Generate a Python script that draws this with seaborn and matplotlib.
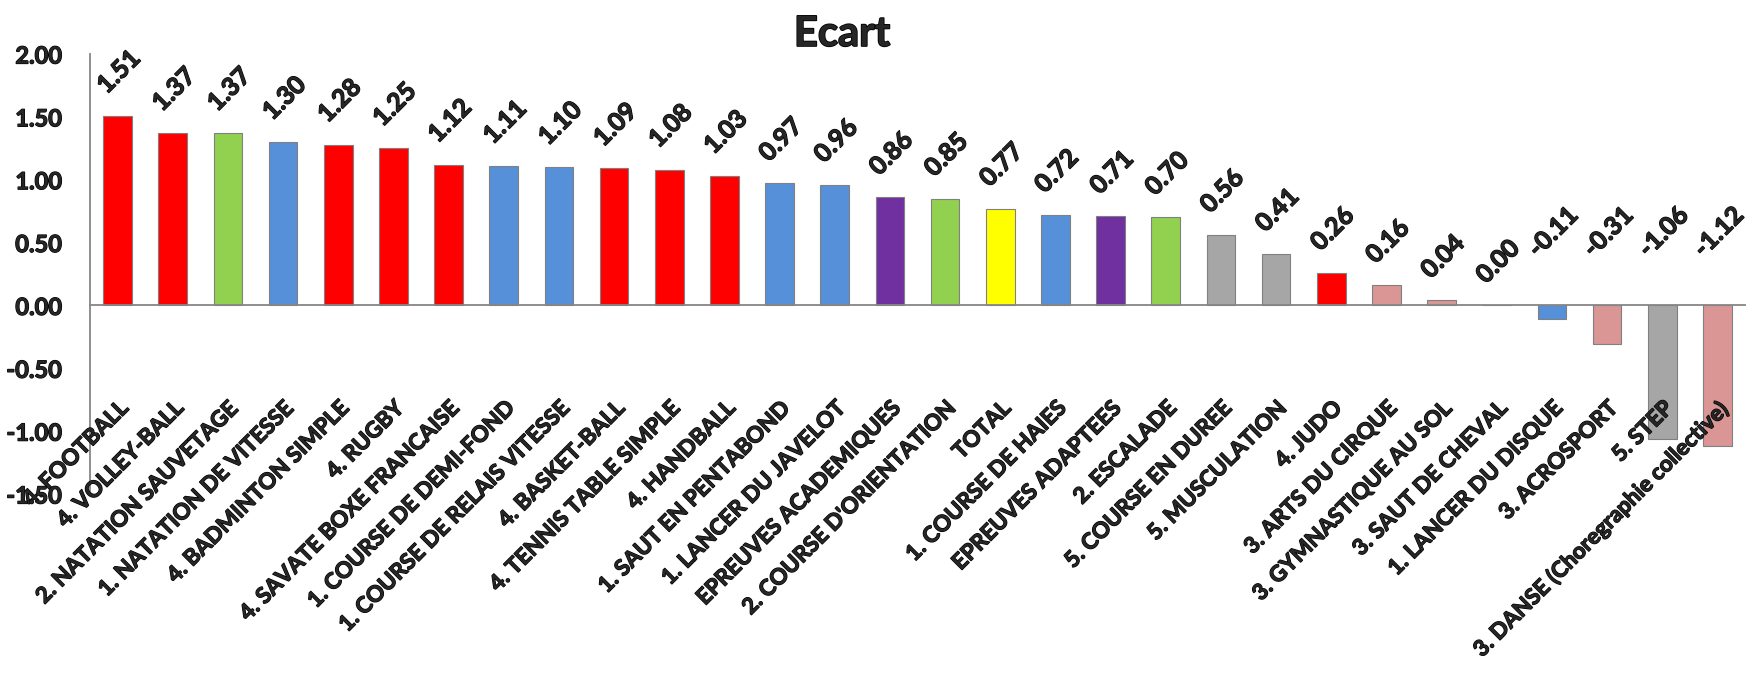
import numpy as np
import pandas as pd
import matplotlib
matplotlib.use('Agg')
import matplotlib.pyplot as plt
import matplotlib.patheffects as pe
import seaborn as sns

categories = ['4. FOOTBALL', '4. VOLLEY-BALL', '2. NATATION SAUVETAGE', '1. NATATION DE VITESSE',
              '4. BADMINTON SIMPLE', '4. RUGBY', '4. SAVATE BOXE FRANCAISE', '1. COURSE DE DEMI-FOND',
              '1. COURSE DE RELAIS VITESSE', '4. BASKET-BALL', '4. TENNIS TABLE SIMPLE', '4. HANDBALL',
              '1. SAUT EN PENTABOND', '1. LANCER DU JAVELOT', 'EPREUVES ACADEMIQUES',
              "2. COURSE D'ORIENTATION", 'TOTAL', '1. COURSE DE HAIES', 'EPREUVES ADAPTEES',
              '2. ESCALADE', '5. COURSE EN DUREE', '5. MUSCULATION', '4. JUDO', '3. ARTS DU CIRQUE',
              '3. GYMNASTIQUE AU SOL', '3. SAUT DE CHEVAL', '1. LANCER DU DISQUE', '3. ACROSPORT',
              '5. STEP', '3. DANSE (Choregraphie collective)']
ecart = [1.51, 1.37, 1.37, 1.30, 1.28, 1.25, 1.12, 1.11, 1.10, 1.09, 1.08, 1.03, 0.97, 0.96,
         0.86, 0.85, 0.77, 0.72, 0.71, 0.70, 0.56, 0.41, 0.26, 0.16, 0.04, 0.00, -0.11, -0.31,
         -1.06, -1.12]
# colour group of each bar
groups = ['red', 'red', 'green', 'blue', 'red', 'red', 'red', 'blue', 'blue', 'red', 'red', 'red',
          'blue', 'blue', 'purple', 'green', 'yellow', 'blue', 'purple', 'green', 'gray', 'gray',
          'red', 'pink', 'pink', 'pink', 'blue', 'pink', 'gray', 'pink']
group_colors = {'red': '#FF0000', 'green': '#92D050', 'blue': '#5690D8', 'purple': '#7030A0',
                'yellow': '#FFFF00', 'gray': '#A6A6A6', 'pink': '#D99694'}

df = pd.DataFrame({'cat': categories, 'val': ecart, 'grp': groups})

sns.set_style('white')
plt.rcParams['font.family'] = ['Lato', 'DejaVu Sans']
# heavier strokes, closer to the Calibri bold of the original
heavy = [pe.withStroke(linewidth=0.9, foreground='black')]

fig = plt.figure(figsize=(17.46, 6.87), dpi=100)
ax = fig.add_axes([90 / 1746, 1 - 494 / 687, 1655 / 1746, 440 / 687])

sns.barplot(data=df, x='cat', y='val', hue='grp', palette=group_colors, dodge=False,
            saturation=1, width=0.52, edgecolor='#808080', linewidth=0.8, legend=False, ax=ax)
ax.set_axisbelow(False)

n = len(categories)
ax.set_xlim(-0.5, n - 0.5)
ax.set_ylim(-1.5, 2.0)
yt = np.arange(-1.5, 2.01, 0.5)
ax.set_yticks(yt)
ax.set_yticklabels([f'{t:.2f}' for t in yt], fontsize=17, fontweight='bold')
ax.tick_params(axis='y', length=0, pad=20)

ax.spines['bottom'].set_position(('data', 0))
for s in ['top', 'right']:
    ax.spines[s].set_visible(False)
for s in ['bottom', 'left']:
    ax.spines[s].set_color('#868686')
    ax.spines[s].set_linewidth(1.3)

ax.set_xticks(range(n))
ax.set_xticklabels(categories, rotation=45, ha='right', rotation_mode='anchor',
                   fontsize=16, fontweight='bold')
ax.tick_params(axis='x', which='major', length=0, pad=66)
ax.set_xticks(np.arange(-0.5, n, 1), minor=True)
ax.tick_params(axis='x', which='minor', length=6, width=1.2, color='#868686', direction='out')
ax.set_xlabel('')
ax.set_ylabel('')
for lab in ax.get_xticklabels() + ax.get_yticklabels():
    lab.set_path_effects(heavy)

for i, v in enumerate(ecart):
    if v >= 0:
        ax.annotate(f'{v:.2f}', xy=(i, v), xytext=(1, 13), textcoords='offset points',
                    rotation=45, ha='center', va='bottom', fontsize=18, fontweight='bold',
                    path_effects=heavy)
    else:
        ax.annotate(f'{v:.2f}', xy=(i, 0), xytext=(1, 32), textcoords='offset points',
                    rotation=45, ha='center', va='bottom', fontsize=18, fontweight='bold',
                    path_effects=heavy)

fig.text(842 / 1746, 1 - 34 / 687, 'Ecart', ha='center', va='center', fontsize=30,
         fontweight='bold', path_effects=[pe.withStroke(linewidth=1.2, foreground='black')])

fig.savefig('out.png', dpi=100)
